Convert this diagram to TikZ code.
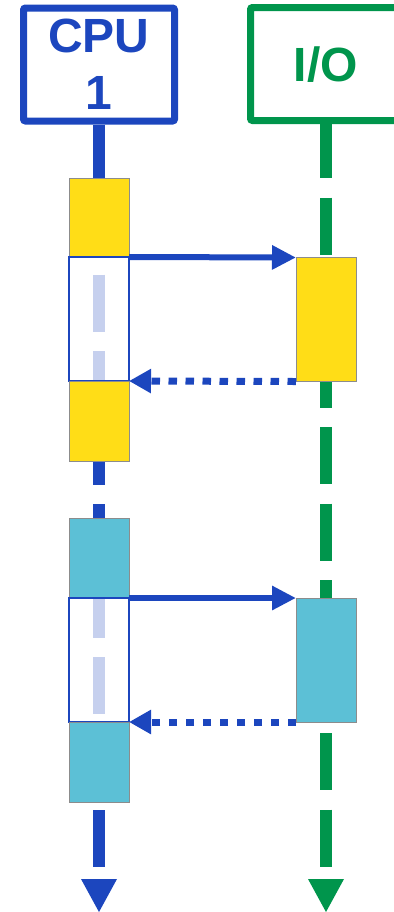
\documentclass[tikz,border=0pt]{standalone}
\usepackage{fontspec}
\setmainfont{Liberation Sans}
\usetikzlibrary{arrows.meta,backgrounds,positioning}
\definecolor{cpublue}{HTML}{1C46BE}
\definecolor{iogreen}{HTML}{00954C}
\definecolor{runyellow}{HTML}{FFDD17}
\definecolor{runcyan}{HTML}{5CC0D6}
\tikzstyle{proc} = [rectangle,line width=3.5pt,rounded corners=1pt,minimum width=75.5pt,minimum height=56.5pt,align=center,font=\fontsize{24}{28.5}\selectfont\bfseries]
\tikzstyle{run} = [rectangle,draw=black!45,line width=0.5pt,minimum width=30pt,inner sep=0pt,outer sep=0pt]
\tikzstyle{waiting} = [rectangle,draw=cpublue,line width=0.75pt,fill=white,fill opacity=0.75,minimum width=30pt,minimum height=62pt,inner sep=0pt,outer sep=0pt]
\tikzstyle{life} = [line width=6pt,dash pattern=on 28.5pt off 9.75pt,dash phase=1.5pt,shorten >=6.25pt]
\tikzstyle{call} = [line width=3pt,-{Triangle[length=12pt,width=11.5pt]}]
\tikzstyle{reply} = [line width=3.5pt,dash pattern=on 4.25pt off 4.25pt,-{Triangle[length=11pt,width=11.5pt]}]

\begin{document}
\begin{tikzpicture}
				\begin{scope}[x=0.5pt,y=-0.5pt,node distance=0pt]
					\useasboundingbox (0,0) rectangle (393,912);
					\node[proc,draw=cpublue,text=cpublue] (cpu) at (99,64.5) {CPU\\1};
					\node[proc,draw=iogreen,text=iogreen,text depth=0pt] (io) at (326,64) {I/O};
					\coordinate (cpuend) at (99,879);
					\coordinate (ioend) at (326,879);
					
					% first request
					\node[run,fill=runyellow,minimum height=39.5pt] (busy1) at (99,217.5) {};
					\node[waiting] (wait1) [below=of busy1] {};
					\node[run,fill=runyellow,minimum height=40pt] (busy2) [below=of wait1] {};
					\node[run,fill=runyellow,minimum height=62pt] (iobusy1) at (326,319.5) {};
					\draw[call,cpublue] (wait1.north east) -- (iobusy1.north west);
					\draw[reply,cpublue] (iobusy1.south west) -- (wait1.south east);
					
					% second request
					\node[run,fill=runcyan,minimum height=40pt] (busy3) at (99,558) {};
					\node[waiting] (wait2) [below=of busy3] {};
					\node[run,fill=runcyan,minimum height=40pt] (busy4) [below=of wait2] {};
					\node[run,fill=runcyan,minimum height=62pt] (iobusy2) at (326,660) {};
					\draw[call,cpublue] (wait2.north east) -- (iobusy2.north west);
					\draw[reply,cpublue] (iobusy2.south west) -- (wait2.south east);
					
					\begin{scope}[on background layer]
						\draw[life,cpublue] (cpu.south) -- (cpuend);
						\draw[life,iogreen] (io.south) -- (ioend);
					\end{scope}
					\fill[cpublue] ([xshift=-9pt]cpuend) -- ([xshift=9pt]cpuend) -- ([yshift=-16.5pt]cpuend) -- cycle;
					\fill[iogreen] ([xshift=-9pt]ioend) -- ([xshift=9pt]ioend) -- ([yshift=-16.5pt]ioend) -- cycle;
				\end{scope}
			\end{tikzpicture}
\end{document}
